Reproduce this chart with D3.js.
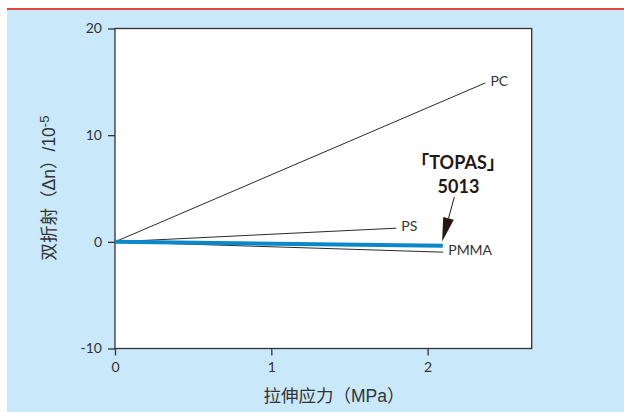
<!DOCTYPE html>
<html>
<head>
<meta charset="utf-8">
<script src="https://cdn.jsdelivr.net/npm/d3@7"></script>
<style>
  html, body { margin: 0; padding: 0; background: #ffffff; }
  svg { display: block; }
</style>
</head>
<body>
<div id="chart"></div>
<script>
// ---- data ----
const seriesNames = ["PC", "PS", "PMMA", "TOPAS 5013"];
const stressX = [[0, 2.37], [0, 1.80], [0, 2.10], [0, 2.097]];
const birefringenceY = [[0, 14.9], [0, 1.28], [0, -0.97], [0, -0.37]];
const xTicks = [0, 1, 2];
const yTicks = [-10, 0, 10, 20];
const xDomain = [0, 2.666];
const yDomain = [-10, 20];
const xTitle = "拉伸应力（MPa）";
const yTitleMain = "双折射（Δn）/10";
const yTitleSup = "-5";
const topasLabel = ["「TOPAS」", "5013"];
// annotation arrow (data coords): start and tip
const arrowStart = [2.171, 4.2];
const arrowTip = [2.093, 0.03];

// ---- layout ----
const W = 624, H = 412;
const svg = d3.select("#chart").append("svg").attr("width", W).attr("height", H);

svg.append("rect").attr("x", 0).attr("y", 0).attr("width", W).attr("height", H).attr("fill", "#ffffff");
svg.append("rect").attr("x", 7).attr("y", 10).attr("width", W - 7).attr("height", H - 10).attr("fill", "#c9e8f9");
svg.append("rect").attr("x", 7).attr("y", 8).attr("width", W - 7).attr("height", 2).attr("fill", "#e8443a");

const x = d3.scaleLinear().domain(xDomain).range([115, 531.7]);
const y = d3.scaleLinear().domain(yDomain).range([348.5, 28.5]);

// plot area
svg.append("rect")
  .attr("x", x(xDomain[0])).attr("y", y(yDomain[1]))
  .attr("width", x(xDomain[1]) - x(xDomain[0]))
  .attr("height", y(yDomain[0]) - y(yDomain[1]))
  .attr("fill", "#ffffff").attr("stroke", "#333333").attr("stroke-width", 1.3);

const tickFont = "Lato, 'Open Sans', sans-serif";
const fmt = d => String(d);

const gy = svg.append("g").attr("transform", `translate(${x(0)},0)`)
  .call(d3.axisLeft(y).tickValues(yTicks).tickFormat(fmt).tickSize(7).tickPadding(6).tickSizeOuter(0));
gy.select(".domain").remove();
gy.selectAll(".tick line").attr("stroke", "#333").attr("stroke-width", 1.3);
gy.selectAll(".tick text").attr("font-family", tickFont).attr("font-size", 14).attr("fill", "#333");

const gx = svg.append("g").attr("transform", `translate(0,${y(yDomain[0])})`)
  .call(d3.axisBottom(x).tickValues(xTicks).tickFormat(fmt).tickSize(7).tickPadding(7).tickSizeOuter(0));
gx.select(".domain").remove();
gx.selectAll(".tick line").attr("stroke", "#333").attr("stroke-width", 1.3);
gx.selectAll(".tick text").attr("font-family", tickFont).attr("font-size", 14).attr("fill", "#333");

// lines
const lineGen = d3.line().x(d => x(d[0])).y(d => y(d[1]));
const series = seriesNames.map((n, i) => ({
  name: n,
  pts: stressX[i].map((sx, j) => [sx, birefringenceY[i][j]])
}));

series.slice(0, 3).forEach(s => {
  svg.append("path").attr("d", lineGen(s.pts)).attr("fill", "none")
    .attr("stroke", "#2a2a2a").attr("stroke-width", 1);
});
// TOPAS thick blue
svg.append("path").attr("d", lineGen(series[3].pts)).attr("fill", "none")
  .attr("stroke", "#0b88c9").attr("stroke-width", 4);

// end labels
series.slice(0, 3).forEach(s => {
  const e = s.pts[s.pts.length - 1];
  svg.append("text").attr("x", x(e[0]) + 5).attr("y", y(e[1]) - 2)
    .attr("dy", "0.35em")
    .attr("font-family", tickFont).attr("font-size", 14).attr("fill", "#333")
    .text(s.name);
});

// TOPAS annotation
svg.append("text").attr("x", 458).attr("y", 169)
  .attr("text-anchor", "middle")
  .attr("font-family", "Lato, 'Noto Sans CJK SC', sans-serif").attr("font-weight", "bold")
  .attr("font-size", 18).attr("fill", "#231815")
  .text(topasLabel[0]);
svg.append("text").attr("x", 458.5).attr("y", 193)
  .attr("text-anchor", "middle")
  .attr("font-family", "Lato, sans-serif").attr("font-weight", "bold")
  .attr("font-size", 18).attr("fill", "#231815")
  .text(topasLabel[1]);

// arrow
const ax0 = x(arrowStart[0]), ay0 = y(arrowStart[1]);
const ax1 = x(arrowTip[0]), ay1 = y(arrowTip[1]);
const ang = Math.atan2(ay1 - ay0, ax1 - ax0);
const headLen = 24, headW = 5.5;
const bx = ax1 - headLen * Math.cos(ang), by = ay1 - headLen * Math.sin(ang);
svg.append("line").attr("x1", ax0).attr("y1", ay0).attr("x2", bx).attr("y2", by)
  .attr("stroke", "#231815").attr("stroke-width", 1);
svg.append("path")
  .attr("d", `M${ax1},${ay1} L${bx + headW * Math.sin(ang)},${by - headW * Math.cos(ang)} L${bx - headW * Math.sin(ang)},${by + headW * Math.cos(ang)} Z`)
  .attr("fill", "#231815");

// axis titles
const titleFont = "'Liberation Sans', 'Noto Sans CJK SC', sans-serif";
svg.append("text").attr("x", 334).attr("y", 396).attr("dy", "0.35em")
  .attr("text-anchor", "middle")
  .attr("font-family", titleFont)
  .attr("font-size", 17.5).attr("fill", "#333")
  .text(xTitle);

const yt = svg.append("text").attr("transform", "translate(49,188) rotate(-90)")
  .attr("text-anchor", "middle").attr("dy", "0.35em")
  .attr("font-family", titleFont)
  .attr("font-size", 17.5).attr("fill", "#333");
yt.append("tspan").text(yTitleMain);
yt.append("tspan").attr("dy", "-0.45em").attr("font-size", 13).text(yTitleSup);
</script>
</body>
</html>
